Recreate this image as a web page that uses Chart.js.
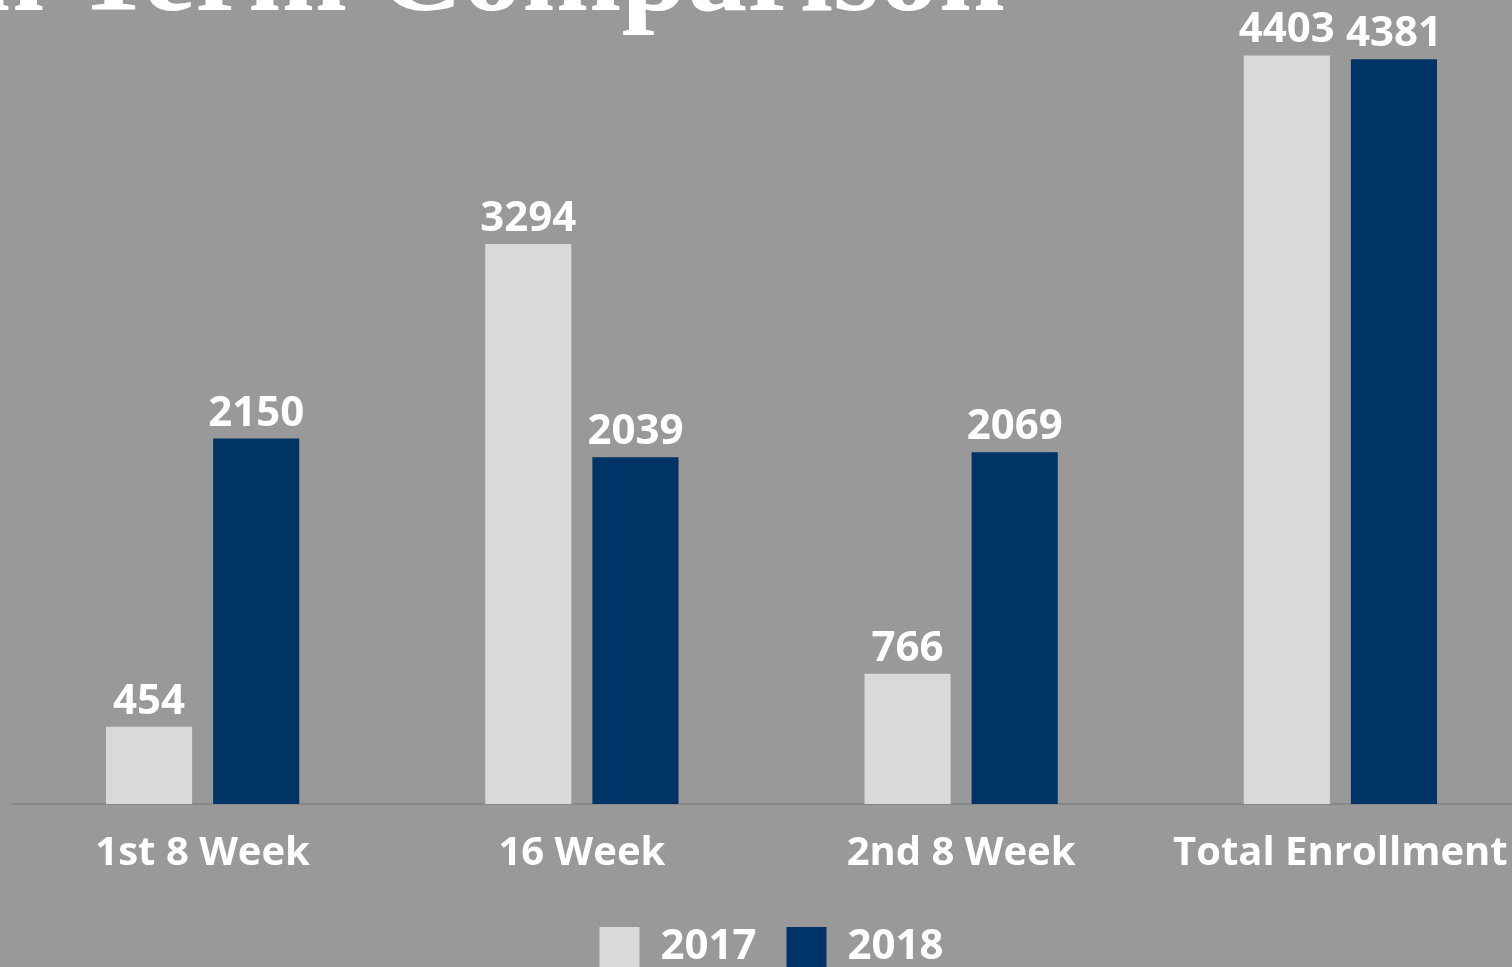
<!DOCTYPE html>
<html>
<head>
<meta charset="utf-8">
<script src="https://cdn.jsdelivr.net/npm/chart.js@4.4.0/dist/chart.umd.min.js"></script>
<style>
  html, body { margin: 0; padding: 0; background: #999999; overflow: hidden; }
  #wrap { position: relative; width: 1530px; height: 978px; }
</style>
</head>
<body>
<div id="wrap"><canvas id="termChart"></canvas></div>
<script>
const categories = ['1st 8 Week', '16 Week', '2nd 8 Week', 'Total Enrollment'];
const seriesNames = ['2017', '2018'];
const values2017 = [454, 3294, 766, 4403];
const values2018 = [2150, 2039, 2069, 4381];
const titleText = 'Registration Term Comparison';

const ctx = document.getElementById('termChart').getContext('2d');

// white value labels above each bar
const valueLabels = {
    id: 'valueLabels',
    afterDatasetsDraw(chart) {
        const c = chart.ctx;
        c.save();
        c.fillStyle = '#ffffff';
        c.font = 'bold 42px "Open Sans"';
        c.textAlign = 'center';
        c.textBaseline = 'alphabetic';
        chart.data.datasets.forEach((ds, i) => {
            chart.getDatasetMeta(i).data.forEach((bar, j) => {
                c.fillText(String(ds.data[j]), bar.x, bar.y - 13);
            });
        });
        c.restore();
    }
};

// slide title, cut off at the top of the picture
const slideTitle = {
    id: 'slideTitle',
    afterDraw(chart) {
        const c = chart.ctx;
        c.save();
        c.fillStyle = '#ffffff';
        c.font = 'bold 119px "Liberation Serif"';
        c.textAlign = 'right';
        c.textBaseline = 'alphabetic';
        c.fillText(titleText, 1005, 10);
        c.restore();
    }
};

new Chart(ctx, {
    type: 'bar',
    data: {
        labels: categories,
        datasets: [
            { label: seriesNames[0], data: values2017, backgroundColor: '#d9d9d9' },
            { label: seriesNames[1], data: values2018, backgroundColor: '#003366' }
        ]
    },
    options: {
        responsive: true,
        maintainAspectRatio: false,
        animation: false,
        layout: { padding: { left: 13, right: 0, top: 22, bottom: 0 } },
        datasets: { bar: { categoryPercentage: 0.565, barPercentage: 0.804 } },
        scales: {
            x: {
                grid: { display: false },
                border: { display: true, color: '#888888', width: 2 },
                ticks: { color: '#ffffff', font: { family: 'Open Sans', size: 40, weight: 'bold' }, padding: 18, maxRotation: 0 }
            },
            y: { display: false, min: 0, max: 4600 }
        },
        plugins: {
            legend: {
                position: 'bottom',
                labels: {
                    color: '#ffffff',
                    boxWidth: 40,
                    boxHeight: 40,
                    padding: 30,
                    font: { family: 'Open Sans', size: 42, weight: 'bold' }
                }
            },
            tooltip: { enabled: false }
        }
    },
    plugins: [valueLabels, slideTitle]
});
</script>
</body>
</html>
